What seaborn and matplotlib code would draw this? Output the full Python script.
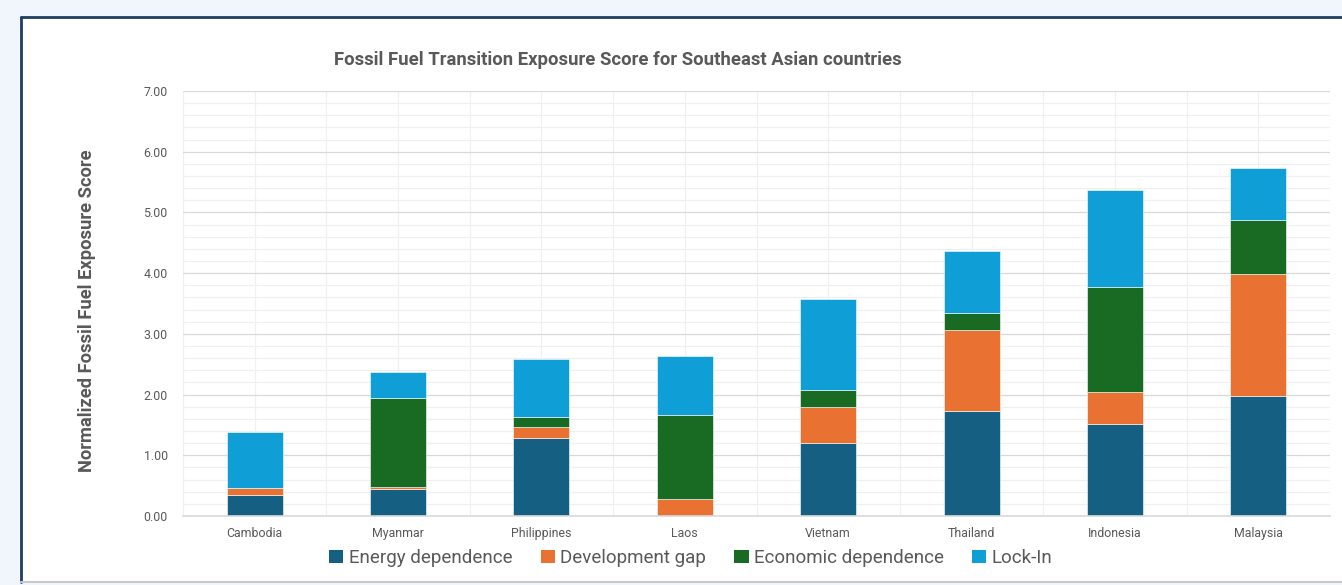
import matplotlib
matplotlib.use("Agg")
import matplotlib.pyplot as plt
from matplotlib.patches import Rectangle, Patch
from matplotlib.lines import Line2D
from matplotlib.ticker import MultipleLocator, FormatStrFormatter
import numpy as np
import pandas as pd
import seaborn as sns

# Component scores per country (stacked bottom to top)
countries = ["Cambodia", "Myanmar", "Philippines", "Laos", "Vietnam",
             "Thailand", "Indonesia", "Malaysia"]
energy_dependence = [0.35, 0.44, 1.29, 0.00, 1.20, 1.73, 1.52, 1.97]
development_gap = [0.11, 0.03, 0.18, 0.28, 0.59, 1.33, 0.53, 2.01]
economic_dependence = [0.00, 1.48, 0.16, 1.39, 0.29, 0.29, 1.72, 0.89]
lock_in = [0.92, 0.43, 0.96, 0.97, 1.50, 1.01, 1.60, 0.86]

series_names = ["Energy dependence", "Development gap",
                "Economic dependence", "Lock-In"]
series_values = [energy_dependence, development_gap, economic_dependence, lock_in]
colors = ["#156082", "#E97132", "#196B24", "#0F9ED5"]

sns.set_theme(style="white")
plt.rcParams["font.family"] = ["Roboto", "DejaVu Sans"]

W, H = 1342, 585
fig = plt.figure(figsize=(W / 100, H / 100), dpi=100)
fig.patch.set_facecolor("#F0F6FC")


def fx(px):
    return px / W


def fy(py):
    return 1 - py / H


# White chart panel with a dark border on the left/top
fig.patches.append(Rectangle((fx(21), fy(582)), 1.0, fy(17) - fy(582),
                             transform=fig.transFigure, facecolor="white",
                             edgecolor="none", zorder=-10))
fig.lines.append(Line2D([fx(21), fx(21)], [fy(17), fy(582)],
                        transform=fig.transFigure, color="#1F3C63", lw=2))
fig.lines.append(Line2D([fx(21), 1.0], [fy(17), fy(17)],
                        transform=fig.transFigure, color="#1F3C63", lw=2))
fig.lines.append(Line2D([fx(21), 1.0], [fy(582), fy(582)],
                        transform=fig.transFigure, color="#C8C8C8", lw=1.5))

ax = fig.add_axes([fx(183), fy(516), fx(1330) - fx(183), fy(91) - fy(516)])
ax.set_zorder(1)
ax.set_facecolor("white")

df = pd.DataFrame({"country": countries})
bottom = np.zeros(len(countries))
for name, vals, col in zip(series_names, series_values, colors):
    df[name] = vals
    sns.barplot(data=df, x="country", y=name, bottom=bottom, color=col,
                width=0.39, ax=ax, saturation=1, zorder=3,
                edgecolor="white", linewidth=0.4)
    bottom = bottom + np.array(vals)

ax.set_xlim(-0.5, len(countries) - 0.5)
ax.set_ylim(0, 7)
ax.yaxis.set_major_locator(MultipleLocator(1))
ax.yaxis.set_minor_locator(MultipleLocator(0.2))
ax.yaxis.set_major_formatter(FormatStrFormatter("%.2f"))
ax.grid(True, which="major", axis="y", color="#D9D9D9", lw=0.9, zorder=0)
ax.grid(True, which="minor", axis="y", color="#F0F0F0", lw=0.9, zorder=0)
for xv in np.arange(-0.5, len(countries), 0.5):
    ax.axvline(xv, color="#F0F0F0", lw=0.9, zorder=0)
ax.set_axisbelow(True)

for s in ["top", "right", "left"]:
    ax.spines[s].set_visible(False)
ax.spines["bottom"].set_color("#D9D9D9")
ax.spines["bottom"].set_linewidth(1.2)
ax.spines["bottom"].set_zorder(4)

ax.tick_params(axis="both", which="both", length=0, labelsize=8.9,
               labelcolor="#595959", pad=8)
ax.tick_params(axis="y", pad=11)
ax.set_xlabel("")
ax.set_ylabel("")
fig.text(fx(87), fy(311), "Normalized Fossil Fuel Exposure Score", rotation=90,
         ha="center", va="center", fontsize=13.2, fontweight="bold", color="#595959")

fig.text(fx(618), fy(60), "Fossil Fuel Transition Exposure Score for Southeast Asian countries",
         ha="center", va="center", fontsize=13.3, fontweight="bold", color="#595959")

handles = [Patch(facecolor=c, edgecolor="none") for c in colors]
fig.legend(handles, series_names, loc="center", ncol=4, frameon=False,
           bbox_to_anchor=(fx(691), fy(558)), fontsize=13.5,
           labelcolor="#595959", handlelength=0.75, handleheight=0.75,
           handletextpad=0.3, columnspacing=1.5)

fig.savefig("out.png", dpi=100, facecolor=fig.get_facecolor())
